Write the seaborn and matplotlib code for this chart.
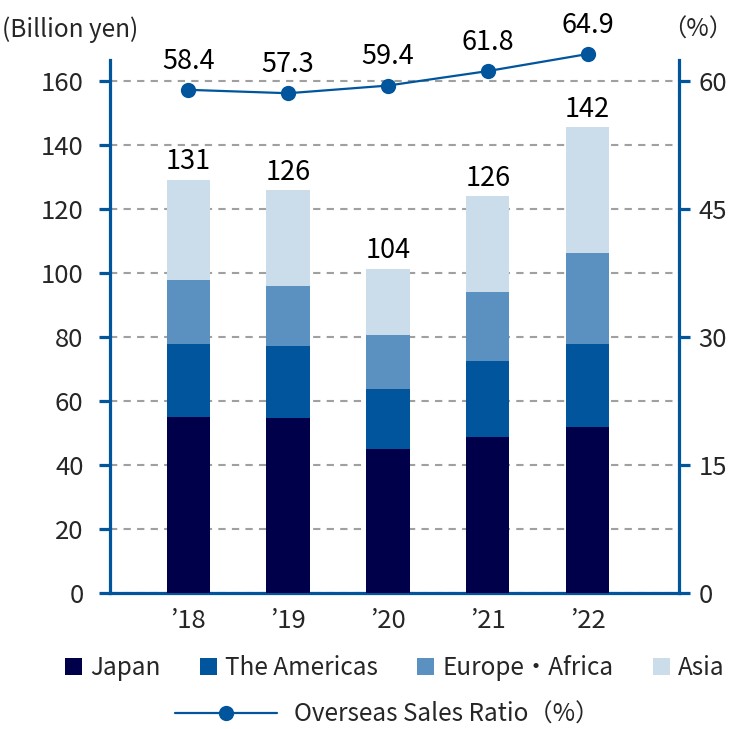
import numpy as np
import pandas as pd
import matplotlib
matplotlib.use("Agg")
import matplotlib.pyplot as plt
from matplotlib.patches import Patch
from matplotlib.lines import Line2D
import seaborn as sns

# dados (bilhões de ienes)
years = ["\u201918", "\u201919", "\u201920", "\u201921", "\u201922"]
japan = [54.9, 54.6, 44.9, 48.7, 51.7]
americas = [22.8, 22.5, 18.7, 23.9, 26.2]
europe_africa = [20.3, 18.9, 16.9, 21.5, 28.4]
asia = [31.3, 30.0, 20.9, 30.0, 39.4]
total_labels = ["131", "126", "104", "126", "142"]

# razão de vendas no exterior (%)
overseas_ratio = [59.0, 58.6, 59.5, 61.2, 63.2]
ratio_labels = ["58.4", "57.3", "59.4", "61.8", "64.9"]

series_names = ["Japan", "The Americas", "Europe\u30fbAfrica", "Asia"]
colors = ["#00004a", "#00559d", "#5b91c0", "#cbdcea"]
blue = "#00559d"

sns.set_theme(style="white")
plt.rcParams["font.family"] = ["Noto Sans CJK JP", "DejaVu Sans"]

df = pd.DataFrame({"year": years, "Japan": japan, "The Americas": americas,
                   "Europe\u30fbAfrica": europe_africa, "Asia": asia})
cols = ["Japan", "The Americas", "Europe\u30fbAfrica", "Asia"]
cum = df[cols].cumsum(axis=1)

fig = plt.figure(figsize=(7.41, 7.29), dpi=100)
ax = fig.add_axes([0.1484, 0.187, 0.7679, 0.7307])

# barras empilhadas: desenha do acumulado maior para o menor
for i in range(len(cols) - 1, -1, -1):
    sns.barplot(x=df["year"], y=cum[cols[i]], color=colors[i], saturation=1,
                width=0.434, linewidth=0, ax=ax, zorder=3)

for i in range(len(years)):
    ax.annotate(total_labels[i], (i, cum["Asia"][i]), xytext=(0, 3),
                textcoords="offset points", ha="center", va="bottom",
                fontsize=19.5, color="black")

ax.set_ylim(0, 166.7)
ax.set_yticks(np.arange(0, 161, 20))
ax.set_xlim(-0.785, 4.915)
ax.set_xlabel("")
ax.set_ylabel("")
ax.yaxis.grid(True, color="#a0a0a0", linestyle=(0, (3.5, 3)), linewidth=1.5, zorder=0)
ax.set_axisbelow(True)

for s in ["left", "right", "bottom"]:
    ax.spines[s].set_color(blue)
    ax.spines[s].set_linewidth(2.3)
ax.spines["top"].set_visible(False)
ax.tick_params(axis="y", direction="out", length=8, width=2.3, color=blue,
               labelsize=18.5, pad=11, left=True)
ax.tick_params(axis="x", length=0, labelsize=18.5, pad=11)

# eixo da direita com a linha
ax2 = ax.twinx()
sns.lineplot(x=np.arange(len(years)), y=overseas_ratio, color=blue, linewidth=1.6,
             marker="o", markersize=11, markeredgewidth=0, ax=ax2, zorder=5,
             clip_on=False)
for i in range(len(years)):
    ax2.annotate(ratio_labels[i], (i, overseas_ratio[i]), xytext=(0, 11),
                 textcoords="offset points", ha="center", va="bottom",
                 fontsize=19.5, color="black", annotation_clip=False)
ax2.set_ylim(0, 62.5)
ax2.set_yticks(np.arange(0, 61, 15))
ax2.set_xlim(-0.785, 4.915)
for s in ["left", "right", "bottom", "top"]:
    ax2.spines[s].set_visible(False)
ax2.tick_params(axis="y", direction="out", length=8, width=2.3, color=blue,
                labelsize=18.5, pad=6, right=True)
ax2.grid(False)

fig.text(0.003, 1 - 30 / 729, "(Billion yen)", fontsize=17.5, va="center", ha="left")
fig.text(698 / 741, 1 - 30 / 729, "\uff08%\uff09", fontsize=17.5, va="center", ha="center")

# legendas
bar_handles = [Patch(facecolor=c, edgecolor="none") for c in colors]
fig.legend(bar_handles, series_names, loc="center", ncol=4,
           bbox_to_anchor=(0.533, 61 / 729), frameon=False, fontsize=17.5,
           handlelength=0.7, handleheight=0.75, handletextpad=0.35,
           columnspacing=1.6, borderpad=0, borderaxespad=0)
line_handle = Line2D([0], [0], color=blue, linewidth=1.6, marker="o", markersize=11,
                     markeredgewidth=0)
fig.legend([line_handle], ["Overseas Sales Ratio\uff08%\uff09"], loc="center",
           bbox_to_anchor=(0.523, 14 / 729), frameon=False, fontsize=17.5,
           handlelength=4.2, handletextpad=0.7, borderpad=0, borderaxespad=0)

fig.savefig("out.png", dpi=100)
